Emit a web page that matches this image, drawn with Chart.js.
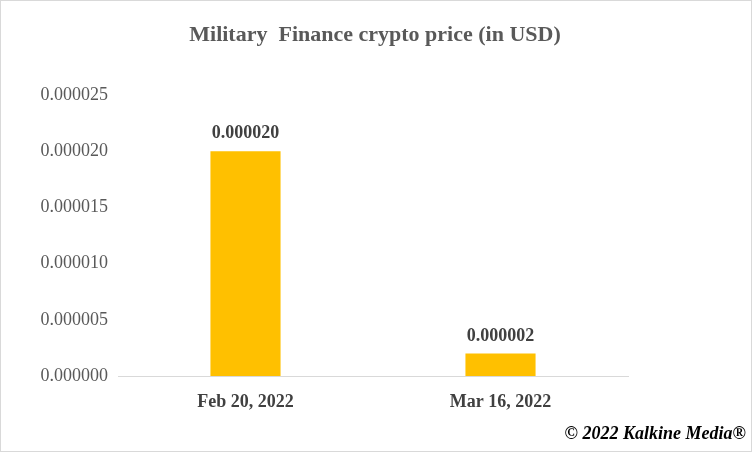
<!DOCTYPE html>
<html>
<head>
<meta charset="utf-8">
<script src="https://cdn.jsdelivr.net/npm/chart.js@4"></script>
<style>
  html, body { margin: 0; padding: 0; background: #fff; }
  #wrap { position: relative; width: 750px; height: 450px; border: 1px solid #d9d9d9; }
</style>
</head>
<body>
<div id="wrap"><canvas id="chart" width="750" height="450"></canvas></div>
<script>
// Dados
const categorias = ["Feb 20, 2022", "Mar 16, 2022"];
const precos = [0.000020, 0.000002];
const rotulos = ["0.000020", "0.000002"];
const FONTE = "'Liberation Serif', 'Times New Roman', serif";

// Título, rótulos e copyright
const extras = {
    id: "extras",
    afterDraw(chart) {
        const ctx = chart.ctx;
        ctx.save();
        ctx.textAlign = "center";
        ctx.fillStyle = "#595959";
        ctx.font = "bold 22px " + FONTE;
        ctx.fillText("Military  Finance crypto price (in USD)", 374, 40);

        const meta = chart.getDatasetMeta(0);
        ctx.font = "bold 18px " + FONTE;
        ctx.fillStyle = "#404040";
        meta.data.forEach((bar, i) => {
            ctx.fillText(rotulos[i], bar.x, bar.y - 13);
        });

        ctx.textAlign = "right";
        ctx.fillStyle = "#000";
        ctx.font = "bold italic 18px " + FONTE;
        ctx.fillText("© 2022 Kalkine Media®", 745, 438);
        ctx.restore();
    }
};

new Chart(document.getElementById("chart"), {
    type: "bar",
    data: {
        labels: categorias,
        datasets: [{
            data: precos,
            backgroundColor: "#ffc000",
            barPercentage: 0.275,
            categoryPercentage: 1
        }]
    },
    options: {
        responsive: false,
        animation: false,
        layout: { padding: { top: 94, right: 123, left: 0, bottom: 0 } },
        plugins: { legend: { display: false }, tooltip: { enabled: false } },
        scales: {
            x: {
                grid: { display: false },
                border: { display: true, color: "#d9d9d9" },
                ticks: { color: "#404040", font: { family: FONTE, size: 18, weight: "bold" }, padding: 8 },
                afterFit(s) { s.height = 75; }
            },
            y: {
                min: 0, max: 0.000025,
                grid: { display: false },
                border: { display: false },
                ticks: {
                    stepSize: 0.000005,
                    color: "#595959",
                    font: { family: FONTE, size: 18 },
                    padding: 2,
                    callback: v => v.toFixed(6)
                },
                afterFit(s) { s.width = 117; }
            }
        }
    },
    plugins: [extras]
});
</script>
</body>
</html>
